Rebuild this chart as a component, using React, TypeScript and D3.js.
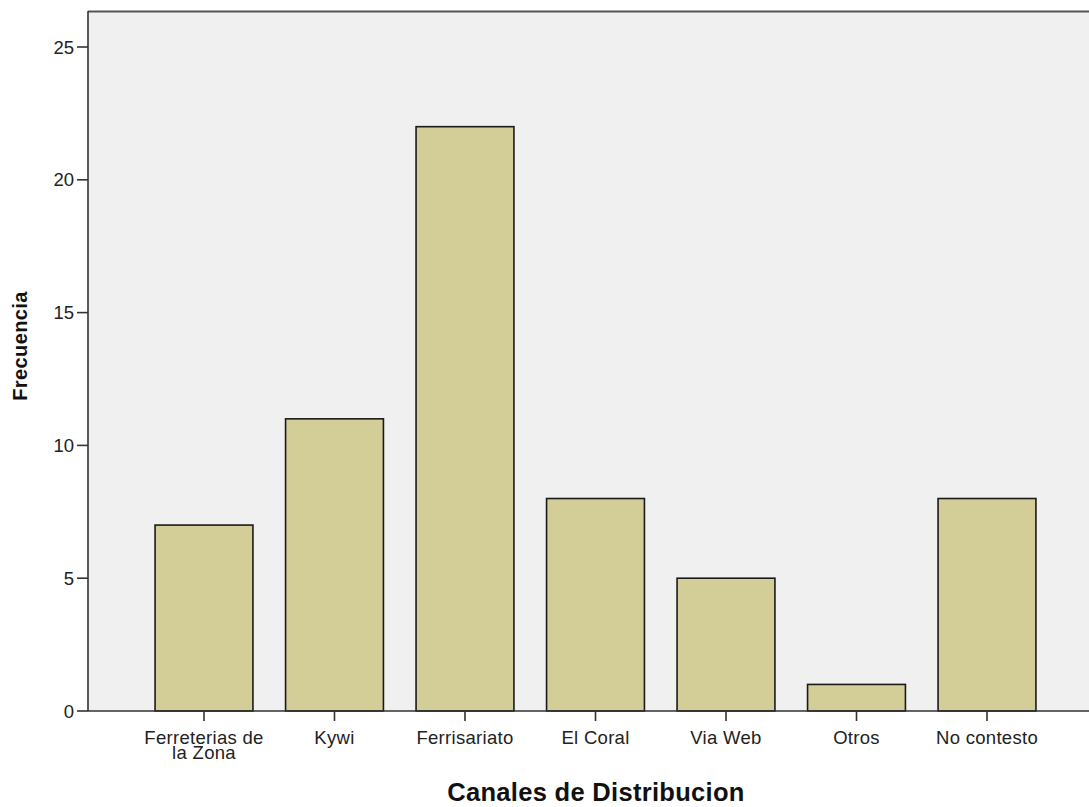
import React from "react";
import * as d3 from "d3";

const categories: string[][] = [
  ["Ferreterias de", "la Zona"],
  ["Kywi"],
  ["Ferrisariato"],
  ["El Coral"],
  ["Via Web"],
  ["Otros"],
  ["No contesto"],
];
const values: number[] = [7, 11, 22, 8, 5, 1, 8];
const yTicks: number[] = [0, 5, 10, 15, 20, 25];
const xTitle = "Canales de Distribucion";
const yTitle = "Frecuencia";

const W = 1089;
const H = 807;
const plotLeft = 88;
const plotTop = 12;
const plotBottom = 711;
const plotRight = 1089;

export default function App() {
  const keys = categories.map((c) => c.join(" "));
  const x = d3
    .scaleBand<string>()
    .domain(keys)
    .range([138.75, 1052.25])
    .paddingInner(0.25)
    .paddingOuter(0.125);
  const y = d3.scaleLinear().domain([0, 25]).range([plotBottom, 47]);
  const font = "Arial, 'Liberation Sans', Helvetica, sans-serif";

  return (
    <svg
      width={W}
      height={H}
      style={{ position: "fixed", left: 0, top: 0, background: "#fff" }}
      fontFamily={font}
    >
      <rect
        x={plotLeft}
        y={plotTop}
        width={plotRight - plotLeft}
        height={plotBottom - plotTop}
        fill="#f0f0f0"
      />
      <line x1={plotLeft} x2={plotRight} y1={plotTop - 0.5} y2={plotTop - 0.5} stroke="#555" strokeWidth={2} />
      {values.map((v, i) => (
        <rect
          key={keys[i]}
          x={x(keys[i])!}
          y={y(v)}
          width={x.bandwidth()}
          height={y(0) - y(v)}
          fill="#d3ce97"
          stroke="#1a1a1a"
          strokeWidth={1.6}
        />
      ))}
      <line x1={plotLeft} x2={plotLeft} y1={plotTop - 1} y2={plotBottom} stroke="#333" strokeWidth={1.6} />
      <line x1={plotLeft} x2={plotRight} y1={plotBottom} y2={plotBottom} stroke="#333" strokeWidth={1.6} />
      {yTicks.map((t) => (
        <g key={t}>
          <line x1={77} x2={plotLeft} y1={y(t)} y2={y(t)} stroke="#333" strokeWidth={1.6} />
          <text
            x={74}
            y={y(t) + 6.5}
            textAnchor="end"
            fontSize={18.5}
            fill="#222"
          >
            {t}
          </text>
        </g>
      ))}
      {categories.map((c, i) => {
        const cx = x(keys[i])! + x.bandwidth() / 2;
        return (
          <g key={keys[i]}>
            <line x1={cx} x2={cx} y1={plotBottom} y2={plotBottom + 10} stroke="#333" strokeWidth={1.6} />
            <text textAnchor="middle" fontSize={18.5} letterSpacing={0.3} fill="#222">
              {c.map((line, j) => (
                <tspan key={j} x={cx} y={744 + j * 15}>
                  {line}
                </tspan>
              ))}
            </text>
          </g>
        );
      })}
      <text
        x={596}
        y={801}
        textAnchor="middle"
        fontSize={25.5}
        fontWeight="bold"
        letterSpacing={0.3}
        fill="#111"
      >
        {xTitle}
      </text>
      <text
        transform={`translate(27, 346) rotate(-90)`}
        textAnchor="middle"
        fontSize={20}
        fontWeight="bold"
        letterSpacing={0.4}
        fill="#111"
      >
        {yTitle}
      </text>
    </svg>
  );
}
